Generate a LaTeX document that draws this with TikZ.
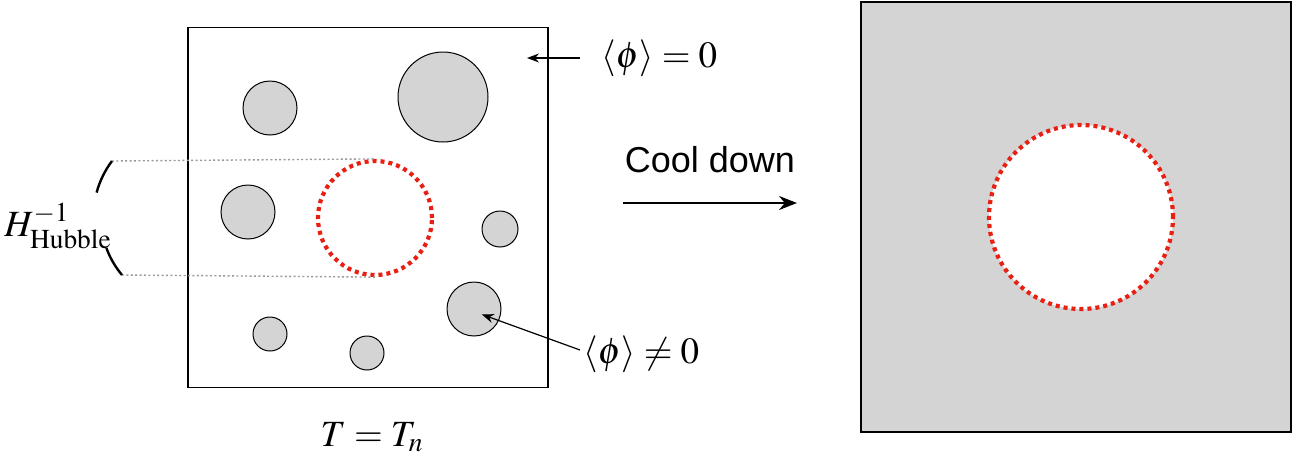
\documentclass[tikz,border=0pt]{standalone}
\usepackage{mathptmx}
\usepackage[no-math]{fontspec}
\setmainfont{Liberation Serif}
\newfontfamily\coolfont{Liberation Sans}
\usepackage{tikz}
\usetikzlibrary{positioning, arrows.meta, calc}
\definecolor{bubblegray}{RGB}{212,212,212}
\definecolor{wallred}{RGB}{232,32,20}

\begin{document}
\begin{tikzpicture}[
  x=0.5pt, y=-0.5pt,
  font=\fontsize{18.5}{22}\selectfont,
  bubble/.style={
    circle,
    draw,
    line width=0.5pt,
    fill=bubblegray,
    inner sep=0pt,
  },
  wall/.style={
    circle,
    draw=wallred,
    line width=2.1pt,
    dash pattern=on 2pt off 2pt,
    inner sep=0pt,
  },
  guide/.style={gray!80, line width=0.7pt, dash pattern=on 1pt off 1.2pt},
  pointer/.style={-{Stealth[length=6pt, width=4.5pt]}, line width=0.6pt},
]
\useasboundingbox (0,0) rectangle (1302,462);

% --- Hot phase ---
\node[draw, line width=0.65pt, minimum size=180pt, inner sep=0pt] (hot) at (368,207.5) {};
\node[bubble, minimum size=27pt] (b1) at (270,108) {};
\node[bubble, minimum size=45pt] (b2) at (443,97) {};
\node[bubble, minimum size=27pt] (b3) at (248,212) {};
\node[bubble, minimum size=18pt] (b4) at (500,229) {};
\node[bubble, minimum size=27pt] (b5) at (474,309) {};
\node[bubble, minimum size=17pt] (b6) at (270,334) {};
\node[bubble, minimum size=17pt] (b7) at (367,353) {};
\node[wall, minimum size=57pt] (patch) at (375,218) {};

\node (temp) at (372,437) {$T = T_n$};

% Hubble bracket
\coordinate (hubTop) at (112,161);
\coordinate (hubBot) at (122,275);
\draw[guide] (hubTop) -- (patch.north);
\draw[guide] (hubBot) -- (patch.south);
\draw[line width=1.2pt] (hubTop) arc[start angle=217, end angle=195, radius=92];
\draw[line width=1.2pt] (hubBot) arc[start angle=140, end angle=160, radius=90];
\node (hubble) at (58,226) {$H^{-1}_{\mathrm{Hubble}}$};

% Labels
\node[anchor=west, inner sep=0pt] (zero) at (601,58) {$\langle\phi\rangle = 0$};
\coordinate (zeroTip) at (527,58);
\draw[pointer] ($(zero.west)+(-21,0)$) -- (zeroTip);
\node[anchor=west, inner sep=0pt] (nonzero) at (583,354) {$\langle\phi\rangle \neq 0$};
\draw[pointer, shorten >=2pt] ($(nonzero.west)+(-3,-4)$) -- ($(b5.center)+(4,4)$);

% --- Cooling ---
\node (cool) at (710,160) {\coolfont\fontsize{18}{21}\selectfont Cool down};
\coordinate (coolStart) at (623,203);
\coordinate (coolEnd) at (797,203);
\draw[-{Stealth[length=9pt, width=7pt]}, line width=1pt] (coolStart) -- (coolEnd);

% --- Cold phase ---
\node[draw, line width=0.75pt, fill=bubblegray, minimum size=215pt, inner sep=0pt] (cold) at (1076,217) {};
\node[wall, fill=white, minimum size=92pt] (hole) at (1081,217) {};
\end{tikzpicture}
\end{document}
